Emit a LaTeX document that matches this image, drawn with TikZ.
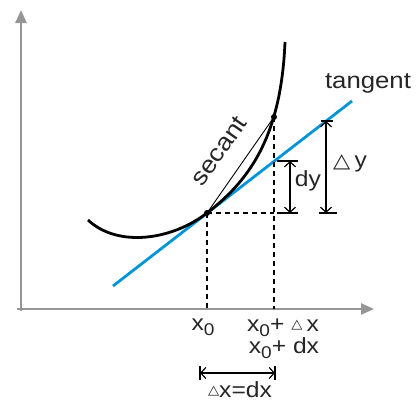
\documentclass[tikz,border=0pt]{standalone}
\usepackage{fontspec}
\setmainfont{Liberation Sans}
\newfontfamily\dejavu{DejaVu Sans}
\usetikzlibrary{arrows.meta}
\definecolor{axisgray}{RGB}{150,150,150}
\definecolor{tanblue}{RGB}{0,150,220}
\newcommand\subz{\raisebox{-0.45ex}{\fontsize{17}{17}\selectfont 0}}
\newcommand\tri[1]{{\dejavu\fontsize{#1}{#1}\selectfont △}}
\newcommand\smalltri{\raisebox{2.5pt}{\dejavu\fontsize{13}{13}\selectfont △}}
\newcommand\wide[1]{\scalebox{1.12}[1]{#1}}
\begin{document}
\begin{tikzpicture}[x=1pt,y=-1pt,
  lbl/.style={font=\fontsize{22}{24}\selectfont, inner sep=0pt, text=black!85},
  axisline/.style={axisgray, line width=2.5pt, -{Triangle[length=13pt,width=11pt]}},
  curveline/.style={black, line width=2.8pt},
  tanline/.style={tanblue, line width=2.8pt},
  dimarrow/.style={line width=1.2pt, {Straight Barb[length=5pt,width=11pt]}-{Straight Barb[length=5pt,width=11pt]}},
  dimbar/.style={line width=1.2pt},
  dashln/.style={line width=1.1pt, dash pattern=on 5pt off 4pt},
  dot/.style={fill=black}
]
\useasboundingbox (0,0) rectangle (417,402);
% key points
\coordinate (P0) at (207,213);
\coordinate (P1) at (274,117);
\coordinate (C0) at (88,220);
\coordinate (C1) at (285,42);
\coordinate (T1) at (113,286);
\coordinate (T2) at (352,101);
\coordinate (Ox) at (17,309);
\coordinate (Xtip) at (374,309);
\coordinate (Oy) at (21,311);
\coordinate (Ytip) at (21,10);
\coordinate (A0) at (207,309);
\coordinate (A1) at (274,309);
\coordinate (H1) at (274,213);
% axes
\draw[axisline] (Ox) -- (Xtip);
\draw[axisline] (Oy) -- (Ytip);
% tangent
\draw[tanline] (T1) -- (T2);
% curve
\draw[curveline] (C0) .. controls (118,248) and (172,240) .. (P0)
  .. controls (247,182) and (281,140) .. (C1);
% secant
\draw[line width=0.9pt] (P0) -- (P1);
% dashed guides
\draw[dashln] (P0) -- (A0);
\draw[dashln] (P1) -- (A1);
\draw[dashln] (P0) -- (H1);
% dy
\coordinate (dyT) at (290,161);
\coordinate (dyB) at (290,213);
\draw[dimbar] (277,161) -- (298,161);
\draw[dimbar] (277,213) -- (298,213);
\draw[dimarrow] (dyT) -- (dyB);
% Delta y
\coordinate (DyT) at (326,121);
\coordinate (DyB) at (326,213);
\draw[dimbar] (321,121) -- (333,121);
\draw[dimbar] (319,213) -- (337,213);
\draw[dimarrow] (DyT) -- (DyB);
% Delta x
\coordinate (BL) at (200,373);
\coordinate (BR) at (275,373);
\draw[dimbar] (200,366) -- (200,380);
\draw[dimbar] (275,366) -- (275,380);
\draw[dimarrow] (BL) -- (BR);
% dots
\fill[dot] (P0) circle (3pt);
\fill[dot] (P1) circle (3pt);
% labels
\node[lbl, anchor=base, font=\fontsize{23}{24}\selectfont] (ltan) at (368,88) {\wide{tangent}};
\node[lbl, rotate=55, font=\fontsize{24}{26}\selectfont] (lsec) at (219,151) {\wide{secant}};
\node[lbl] (ldy) at (308,181) {\wide{dy}};
\node[lbl] (lDy) at (350,163) {\wide{\tri{20}\,y}};
\node[lbl, anchor=base] (lx0) at (203,330) {\wide{x\subz}};
\node[lbl, anchor=base] (lx1) at (283,331) {\wide{x\subz+ \smalltri\,x}};
\node[lbl, anchor=base] (lx2) at (284,353) {\wide{x\subz+ dx}};
\node[lbl, anchor=base] (ldx) at (240,397) {\wide{\smalltri x=dx}};
\end{tikzpicture}
\end{document}
